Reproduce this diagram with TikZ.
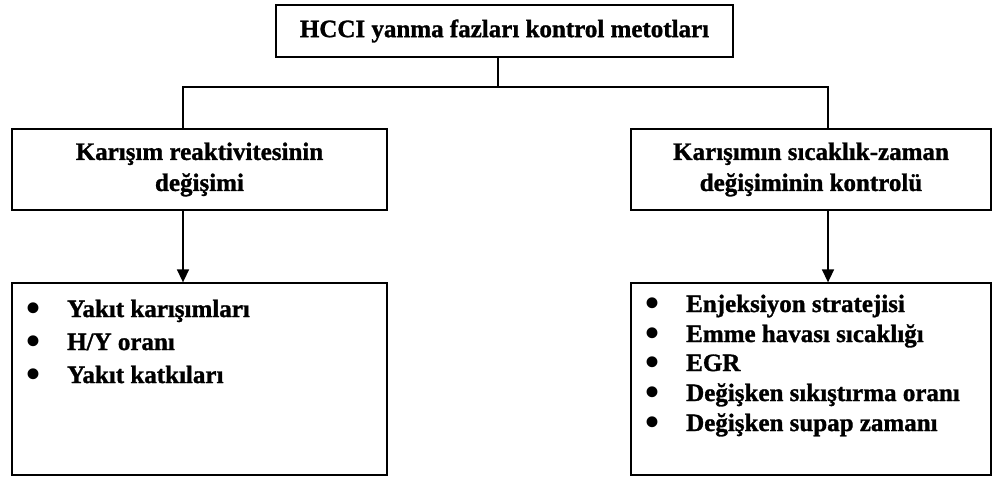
\documentclass[tikz,border=0pt]{standalone}
\usepackage{fontspec}
\setmainfont[BoldFeatures={FakeBold=1.2}]{Liberation Serif}
\newfontfamily\bulletfont{Liberation Serif}
\usetikzlibrary{arrows.meta}
\begin{document}
\begin{tikzpicture}[x=1pt,y=-1pt,
  box/.style={draw=black, line width=1.3pt, inner sep=0pt, align=center,
    font=\fontsize{25}{31}\selectfont\bfseries},
  link/.style={line width=1.5pt},
  arrowlink/.style={link, -{Triangle[width=12pt,length=13pt]}},
  item/.style={anchor=base west, inner sep=0pt, font=\fontsize{25}{30}\selectfont\bfseries}]
\useasboundingbox (0,0) rectangle (995,477);

% boxes
\node[box, minimum width=457pt, minimum height=52pt] (top) at (504.5,31)
  {HCCI yanma fazları kontrol metotları};
\node[box, minimum width=375pt, minimum height=81pt] (lmid) at (199.5,169.5)
  {Karışım reaktivitesinin\\değişimi};
\node[box, minimum width=360pt, minimum height=81pt] (rmid) at (811,169.5)
  {Karışımın sıcaklık-zaman\\değişiminin kontrolü};
\node[box, minimum width=375pt, minimum height=192pt] (lbot) at (199.5,379) {};
\node[box, minimum width=360pt, minimum height=192pt] (rbot) at (811,379) {};

% connectors
\coordinate (hub) at (498,87);
\coordinate (lx) at (183,87);
\coordinate (rx) at (828,87);
\draw[link] (top.south -| hub) -- (hub);
\draw[link] (lmid.north -| lx) -- (lx) -- (rx) -- (rmid.north -| rx);
\draw[arrowlink] (lmid.south -| lx) -- (lbot.north -| lx);
\draw[arrowlink] (rmid.south -| rx) -- (rbot.north -| rx);

% bullet lists: enlarged round bullet, centred 34pt left of the item text
\newcommand{\bulletitem}[1]{\makebox[0pt]{\raisebox{-4pt}{\bulletfont\scalebox{1.6}{\textbullet}}}\hspace{34pt}#1}
\node[item] (l1) at (33,317) {\bulletitem{Yakıt karışımları}};
\node[item] (l2) at (33,350) {\bulletitem{H/Y oranı}};
\node[item] (l3) at (33,383) {\bulletitem{Yakıt katkıları}};

\node[item] (r1) at (652,312) {\bulletitem{Enjeksiyon stratejisi}};
\node[item] (r2) at (652,342) {\bulletitem{Emme havası sıcaklığı}};
\node[item] (r3) at (652,371) {\bulletitem{EGR}};
\node[item] (r4) at (652,401) {\bulletitem{Değişken sıkıştırma oranı}};
\node[item] (r5) at (652,431) {\bulletitem{Değişken supap zamanı}};
\end{tikzpicture}
\end{document}
